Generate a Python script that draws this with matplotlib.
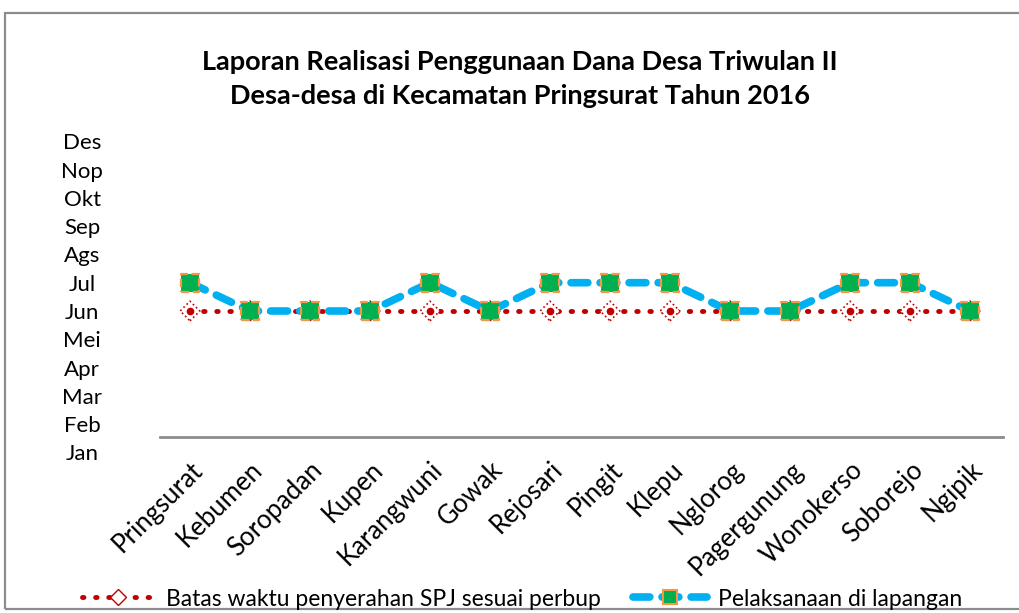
import matplotlib
matplotlib.use("Agg")
import matplotlib.pyplot as plt
from matplotlib.patches import Rectangle
from matplotlib.lines import Line2D

desa = ["Pringsurat", "Kebumen", "Soropadan", "Kupen", "Karangwuni", "Gowak",
        "Rejosari", "Pingit", "Klepu", "Nglorog", "Pagergunung", "Wonokerso",
        "Soborejo", "Ngipik"]
batas_waktu = [6, 6, 6, 6, 6, 6, 6, 6, 6, 6, 6, 6, 6, 6]
pelaksanaan = [7, 6, 6, 6, 7, 6, 7, 7, 7, 6, 6, 7, 7, 6]
bulan = ["Jan", "Feb", "Mar", "Apr", "Mei", "Jun", "Jul", "Ags", "Sep", "Okt", "Nop", "Des"]
bulan_val = list(range(1, 13))
title = "Laporan Realisasi Penggunaan Dana Desa Triwulan II\nDesa-desa di Kecamatan Pringsurat Tahun 2016"
leg1 = "Batas waktu penyerahan SPJ sesuai perbup"
leg2 = "Pelaksanaan di lapangan"

plt.rcParams['font.family'] = ['Lato', 'DejaVu Sans']

W, H = 1019, 613
fig = plt.figure(figsize=(W / 100, H / 100), dpi=100)

# outer border
fig.patches.append(Rectangle((5 / W, 4 / H), 1.2, (H - 13 - 4) / H, transform=fig.transFigure,
                             fill=False, edgecolor="#8c8c8c", lw=1.6, zorder=0))

px = 28.3
top_px = 311 - 6.5 * px
bot_px = 311 + 5.5 * px
ax = fig.add_axes([160 / W, (H - bot_px) / H, 840 / W, (bot_px - top_px) / H])
ax.set_xlim(-0.5, len(desa) - 0.5)
ax.set_ylim(0.5, 12.5)
for s in ax.spines.values():
    s.set_visible(False)

axis_y = 6 - (437 - 311) / px
ax.axhline(axis_y, xmin=0, xmax=843 / 840, color="#8c8c8c", lw=2, clip_on=False)

x = list(range(len(desa)))
red = "#C00000"
blue = "#00B0F0"
green = "#00B050"
orange = "#F79646"

ax.plot(x, batas_waktu, color=red, lw=3.5, linestyle=(0, (0.3, 2.4)),
        dash_capstyle="round", zorder=2)
ax.scatter(x, batas_waktu, marker="D", s=100, facecolor="white", edgecolor=red,
           linewidths=1.2, linestyles=":", zorder=3)
ax.scatter(x, batas_waktu, marker="o", s=20, color=red, zorder=3)

ax.plot(x, pelaksanaan, color=blue, lw=5.5, linestyle=(0, (2.2, 1.6)),
        dash_capstyle="round", zorder=4)
ax.scatter(x, pelaksanaan, marker="s", s=170, facecolor=green, edgecolor=orange,
           linewidths=1.6, linestyles="--", zorder=5)

ax.set_xticks(x)
ax.set_xticklabels(desa, rotation=45, ha="right", rotation_mode="anchor", fontsize=18.5)
ax.tick_params(axis="x", length=0, pad=-7)
ax.set_yticks(bulan_val)
ax.set_yticklabels(bulan, fontsize=16, ha="center")
ax.tick_params(axis="y", length=0, pad=56)

fig.text(520 / W, 1 - 79 / H, title, ha="center", va="center", fontsize=19.5,
         fontweight="bold", linespacing=1.55)

h1 = Line2D([], [], color=red, lw=3.5, linestyle=(0, (0.3, 2.4)), dash_capstyle="round",
            marker="D", markersize=8, markerfacecolor="white", markeredgecolor=red,
            markeredgewidth=1.0)
h2 = Line2D([], [], color=blue, lw=5.5, linestyle=(0, (2.2, 1.6)), dash_capstyle="round",
            marker="s", markersize=10, markerfacecolor=green, markeredgecolor=orange,
            markeredgewidth=1.5)
fig.legend([h1, h2], [leg1, leg2], loc="center", bbox_to_anchor=(522 / W, 1 - 599 / H),
           ncol=2, frameon=False, fontsize=16.5, handlelength=3.2, columnspacing=1.4,
           handletextpad=0.5, borderaxespad=0)

fig.savefig("out.png", dpi=100)
